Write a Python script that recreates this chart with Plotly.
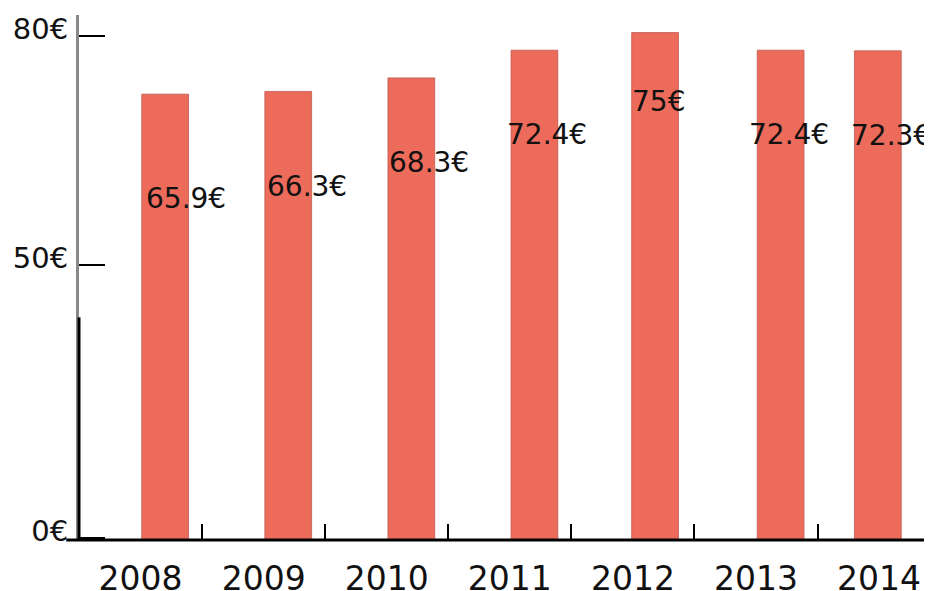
import plotly.graph_objects as go

years = ["2008", "2009", "2010", "2011", "2012", "2013", "2014"]
values = [65.9, 66.3, 68.3, 72.4, 75.0, 72.4, 72.3]
labels = ["65.9€", "66.3€", "68.3€", "72.4€", "75€", "72.4€", "72.3€"]
ytick_vals = [0.3, 40.7, 74.5]
ytick_text = ["0€", "50€", "80€"]

# styling (pixel shifts / offsets)
bar_offset = [0.01, 0.01, 0.01, 0.01, -0.01, 0.01, -0.2]
label_xshift = [3, 1, 0, -5, -3, -9, -30]
label_yshift = [-104, -95, -85, -84, -69, -84, -85]

BAR = "#EC6B5A"
FONT = "DejaVu Sans"

fig = go.Figure()
fig.add_trace(go.Bar(
    x=years, y=values,
    width=0.38, offset=bar_offset,
    marker=dict(color=BAR, line=dict(color="rgba(190,90,80,0.8)", width=1)),
    hoverinfo="skip",
))

# category axes: annotations positioned by category index
for i, (v, t, xs, ys) in enumerate(zip(values, labels, label_xshift, label_yshift)):
    fig.add_annotation(x=i, y=v, xref="x", yref="y", text=t, showarrow=False,
                       xanchor="left", yanchor="middle",
                       xshift=xs, yshift=ys,
                       font=dict(family=FONT, size=28, color="#111"))

# extended x axis line and lower dark part of y axis
fig.add_shape(type="line", xref="paper", yref="paper",
              x0=-0.015, x1=1, y0=0, y1=0, line=dict(color="black", width=3))
fig.add_shape(type="line", xref="paper", yref="paper",
              x0=0, x1=0, y0=0, y1=0.424, line=dict(color="black", width=3))

# the page body adds an 8px margin, so the figure is sized 8px smaller
fig.update_layout(
    width=924, height=583,
    margin=dict(l=71, r=0, t=7, b=51),
    paper_bgcolor="white", plot_bgcolor="white",
    showlegend=False,
    font=dict(family=FONT, color="#111"),
    xaxis=dict(type="category", range=[-0.5, 6.43], automargin=False,
               showline=False, showgrid=False, zeroline=False,
               ticks="inside", tickson="boundaries", ticklen=16,
               tickwidth=2, tickcolor="black",
               ticklabelstandoff=16,
               tickfont=dict(family=FONT, size=33, color="#111")),
    yaxis=dict(range=[0, 77.6], showgrid=False, zeroline=False, automargin=False,
               showline=True, linecolor="#888", linewidth=3,
               tickvals=ytick_vals, ticktext=ytick_text,
               ticks="inside", ticklen=26, tickwidth=2, tickcolor="black",
               ticklabelshift=-7, ticklabelstandoff=2,
               tickfont=dict(family=FONT, size=29, color="#111")),
)

fig.write_html("out.html")
